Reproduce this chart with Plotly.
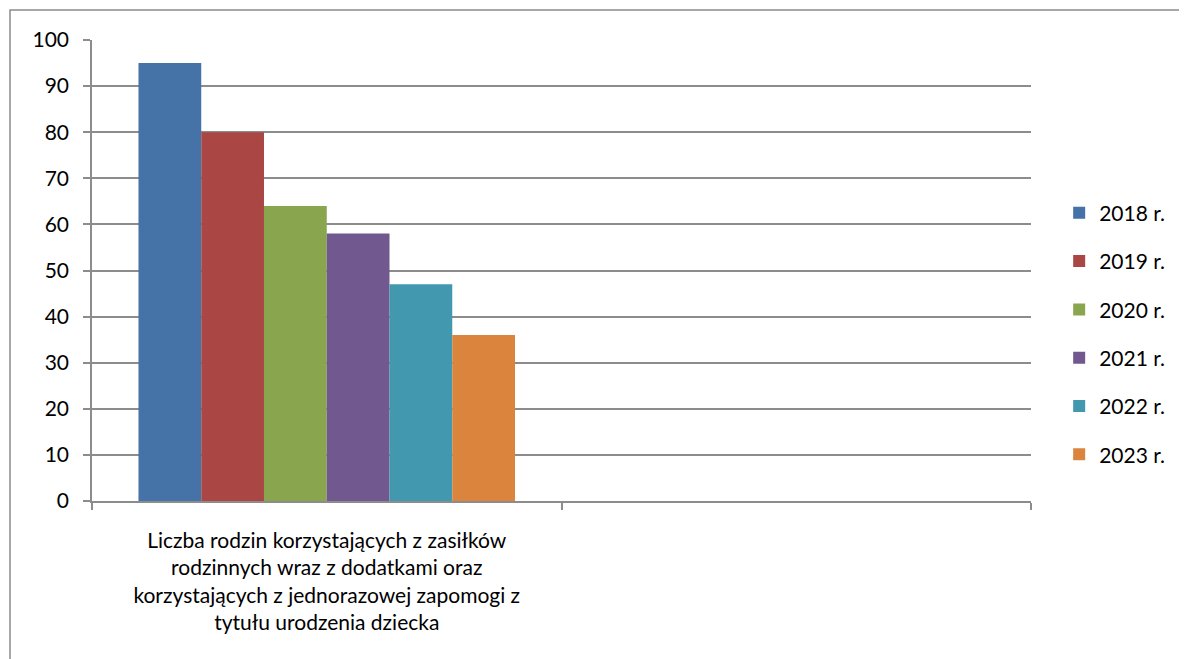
import plotly.graph_objects as go

categories = ["Liczba rodzin korzystających z zasiłków<br>rodzinnych wraz z dodatkami oraz<br>korzystających z jednorazowej zapomogi z<br>tytułu urodzenia dziecka", " "]
series_names = ["2018 r.", "2019 r.", "2020 r.", "2021 r.", "2022 r.", "2023 r."]
series_values = [95, 80, 64, 58, 47, 36]
colors = ["#4572A7", "#AA4643", "#89A54E", "#71588F", "#4198AF", "#DB843D"]
y_ticks = [0, 10, 20, 30, 40, 50, 60, 70, 80, 90, 100]

FONT = "Lato, Open Sans, sans-serif"
FS = 21

fig = go.Figure()
for i, (name, val) in enumerate(zip(series_names, series_values)):
    fig.add_trace(go.Bar(
        x=[categories[0], categories[1]],
        y=[val, None],
        name=name,
        marker=dict(color=colors[i], line=dict(width=0)),
        legendgroup=name,
    ))

# outer chart border (page has an 8px body margin)
fig.add_shape(type="rect", xref="paper", yref="paper",
              x0=(10 - 92) / 939, x1=1.3, y0=-0.6, y1=(501 - 10) / 461,
              line=dict(color="#8c8c8c", width=1.5), fillcolor="rgba(0,0,0,0)", layer="below")

fig.update_layout(
    width=1187, height=659,
    margin=dict(l=84, r=164, t=32, b=166),
    paper_bgcolor="white", plot_bgcolor="white",
    barmode="group", bargap=0.198, bargroupgap=0,
    font=dict(family=FONT, size=FS, color="black"),
    showlegend=True,
    legend=dict(x=1.03, y=0.363, xanchor="left", yanchor="middle",
                font=dict(family=FONT, size=FS, color="black"),
                tracegroupgap=18, itemwidth=30, bgcolor="rgba(0,0,0,0)"),
    xaxis=dict(type="category", categoryorder="array", categoryarray=categories,
               showline=True, linecolor="#8c8c8c", linewidth=1.5,
               ticks="outside", ticklen=7, tickcolor="#8c8c8c", tickwidth=1.5,
               tickson="boundaries", showgrid=False, ticklabelstandoff=20,
               tickfont=dict(family=FONT, size=FS, color="black")),
    yaxis=dict(range=[0, 100], tickvals=y_ticks, showgrid=True, gridcolor="#8c8c8c", gridwidth=1.5,
               showline=True, linecolor="#8c8c8c", linewidth=1.5,
               ticks="outside", ticklen=7, tickcolor="#8c8c8c", tickwidth=1.5,
               zeroline=False, ticklabelstandoff=10,
               tickfont=dict(family=FONT, size=FS, color="black")),
)

fig.write_html("out.html")
